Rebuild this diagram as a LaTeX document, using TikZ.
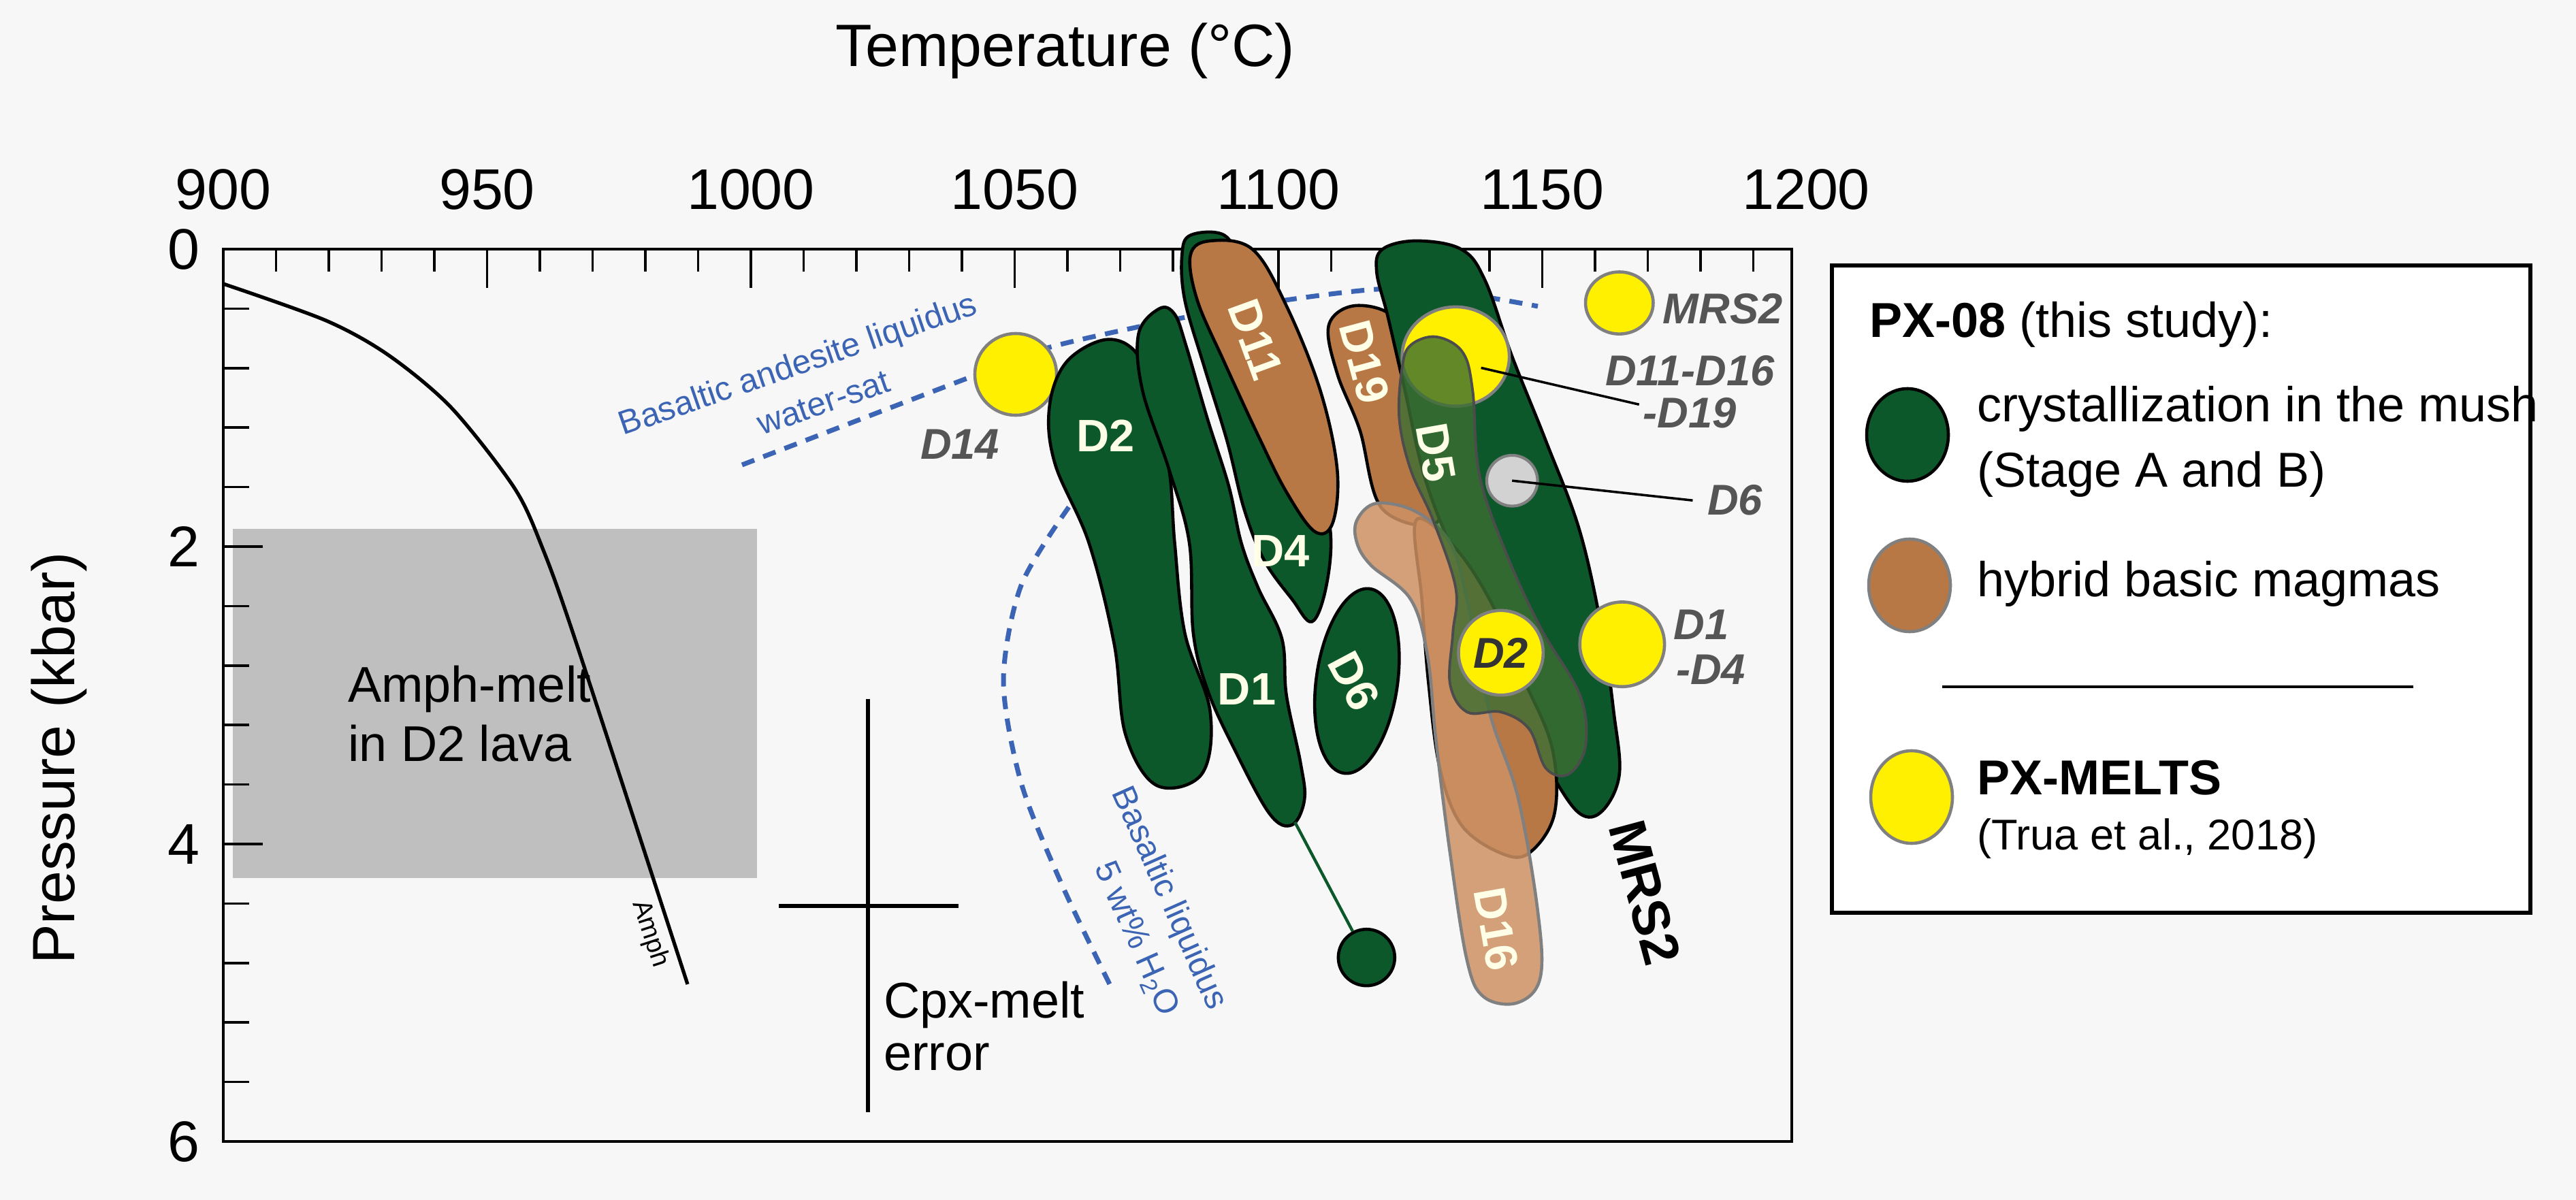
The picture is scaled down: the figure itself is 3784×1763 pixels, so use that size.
\documentclass[tikz,border=0pt]{standalone}
\usepackage{fontspec}
\setmainfont{Liberation Sans}
\newcommand\fsz[1]{\fontsize{#1}{#1}\selectfont}
\definecolor{dgreen}{RGB}{12,88,42}
\definecolor{mgreen}{RGB}{60,110,50}
\definecolor{brownA}{RGB}{184,120,70}
\definecolor{brownB}{RGB}{205,145,100}
\definecolor{yel}{RGB}{255,240,0}
\definecolor{bl}{RGB}{60,100,180}
\definecolor{lab}{RGB}{85,85,85}
\begin{document}
\begin{tikzpicture}[x=0.02cm,y=-0.02cm,
  gblob/.style={fill=dgreen,draw=black,line width=2.6pt},
  bblob/.style={fill=brownA,draw=black,line width=2.6pt},
  ycirc/.style={fill=yel,draw=gray,line width=2.6pt},
  blabel/.style={text=white!90!yellow,font=\fsz{38}\bfseries},
  ilabel/.style={text=lab,font=\fsz{36}\bfseries\itshape},
  bdash/.style={bl,dash pattern=on 11pt off 8pt,line width=4pt},
  tick/.style={line width=2pt}]
\useasboundingbox (0,0) rectangle (3784,1763);
\fill[white!97!black] (0,0) rectangle (3784,1763);
% gray box
\fill[gray!50] (342,777) rectangle (1112,1290);
\node[anchor=west,font=\fsz{42}] (am1) at (505,1012) {Amph-melt};
\node[anchor=west,font=\fsz{42}] (am2) at (505,1092) {in D2 lava};
% frame
\draw[line width=2.5pt] (328,366) rectangle (2632,1677);
\foreach \t in {910,920,...,1190}{\draw[tick] ({328+(\t-900)*7.75},366) -- ++(0,33);}
\foreach \t in {950,1000,...,1150}{\draw[tick] ({328+(\t-900)*7.75},366) -- ++(0,57);}
\foreach \t in {900,950,...,1200}{\node[font=\fsz{48}] (t\t) at ({328+(\t-900)*7.75},278) {\t};}
\foreach \p in {0.4,0.8,...,5.7}{\draw[tick] (328,{366+\p*218.5}) -- ++(38,0);}
\foreach \p in {2,4}{\draw[tick] (328,{366+\p*218.5}) -- ++(58,0);}
\foreach \p in {0,2,4,6}{\node[font=\fsz{48}] (p\p) at (270,{366+\p*218.5}) {\p};}
\node[font=\fsz{50},rotate=90] (ylab) at (87,1114) {Pressure (kbar)};
\node[font=\fsz{50}] (xlab) at (1565,75) {Temperature (°C)};
% Amph curve
\draw[line width=3pt] plot[smooth] coordinates {(328,417) (479,471) (571,522) (663,599) (755,716) (796,803) (847,946) (1010,1446)};
\node[font=\fsz{22},rotate=-72] (amph) at (955,1372) {Amph};
% error cross
\draw[line width=3pt] (1275,1027) -- (1275,1634);
\draw[line width=3pt] (1144,1331) -- (1408,1331);
\node[anchor=west,font=\fsz{42}] (cpx1) at (1292,1476) {Cpx-melt};
\node[anchor=west,font=\fsz{42}] (cpx2) at (1292,1553) {error};
% blue dashed curves
\draw[bdash] plot[smooth] coordinates {(1090,683) (1428,553) (1550,508) (1800,455) (2022,425) (2150,432) (2259,450)};
\draw[bdash] plot[smooth] coordinates {(1570,745) (1500,860) (1474,1000) (1500,1150) (1560,1300) (1633,1452)};
\node[bl,font=\fsz{28},rotate=19] (ba1) at (1173,538) {Basaltic andesite liquidus};
\node[bl,font=\fsz{28},rotate=19] (ba2) at (1210,592) {water-sat};
\node[bl,font=\fsz{28},rotate=-66] (bq1) at (1716,1320) {Basaltic liquidus};
\node[bl,font=\fsz{28},rotate=-66] (bq2) at (1668,1380) {5 wt\% H\textsubscript{2}O};
% D14
\draw[ycirc] (1492,550) circle (60);
\node[ilabel] (d14) at (1410,653) {D14};
\begin{scope}[shift={(1500,300)},scale=0.829]
 \draw[gblob] plot[smooth cycle,tension=0.6] coordinates {(150,240) (80,280) (50,360) (60,460) (120,600) (165,780) (185,940) (240,1030) (320,1010) (335,900) (290,760) (272,600) (262,470) (232,350) (205,265)};
 \draw[gblob] plot[smooth cycle,tension=0.6] coordinates {(300,55) (360,55) (390,110) (425,210) (465,340) (520,470) (548,580) (540,680) (515,740) (480,700) (430,630) (395,540) (365,420) (325,290) (290,170) (285,90)};
 \draw[gblob] plot[smooth cycle,tension=0.6] coordinates {(245,185) (208,230) (215,330) (262,470) (298,600) (305,760) (330,860) (375,960) (440,1080) (480,1100) (502,1055) (495,990) (470,870) (462,770) (420,680) (390,600) (368,500) (330,380) (292,250) (272,195)};
 \draw[gblob,rotate around={-8:(595,845)}] (595,845) ellipse (72 and 165);
 \node[blabel,rotate=-62] (d6b) at (590,845) {D6};
 \node[blabel] (d2b) at (150,410) {D2};
 \node[blabel] (d4b) at (460,615) {D4};
 \node[blabel] (d1b) at (400,860) {D1};
 \node[circle,fill=dgreen,draw=black,line width=2.6pt,minimum size=100*0.829*0.02cm,inner sep=0] (gc) at (612,1335) {};
 \coordinate (tailtop) at (485,1095);
 \draw[dgreen,line width=2.5pt] (tailtop) -- (gc);
 \draw[bblob] plot[smooth cycle,tension=0.6] coordinates {(300,90) (335,65) (410,80) (470,180) (530,330) (560,470) (552,565) (520,580) (470,510) (420,410) (360,280) (312,170)};
 \node[blabel,rotate=-70] (d11) at (415,240) {D11};
 \draw[bblob] plot[smooth cycle,tension=0.6] coordinates {(545,215) (590,180) (660,200) (690,280) (705,420) (740,560) (640,540) (600,400) (560,300)};
 \node[blabel,rotate=-75] (d19) at (608,280) {D19};
 \draw[gblob] plot[smooth cycle,tension=0.6] coordinates {(640,80) (700,65) (780,80) (822,135) (870,270) (930,420) (990,580) (1030,760) (1050,900) (1060,1010) (1030,1075) (990,1080) (940,1010) (870,880) (800,700) (720,500) (680,330) (650,200) (630,120)};
 \node[font=\fsz{44}\bfseries,rotate=-75] (mrs2) at (1105,1220) {MRS2};
 \draw[bblob] plot[smooth cycle,tension=0.6] coordinates {(700,560) (770,610) (835,710) (885,830) (940,960) (945,1080) (900,1150) (850,1150) (780,1100) (742,1000) (722,850) (710,700)};
 \draw[fill=brownB,fill opacity=0.85,draw=gray,line width=2.6pt] plot[smooth cycle,tension=0.6] coordinates {(595,560) (630,530) (700,545) (760,600) (790,700) (830,900) (880,1050) (915,1250) (920,1370) (880,1415) (820,1405) (790,1340) (760,1150) (735,950) (720,800) (690,700) (620,640) (595,600)};
 \node[blabel,rotate=-80] (d16) at (842,1285) {D16};
 \draw[ycirc] (770,270) ellipse (95 and 88);
 \draw[ycirc] (1060,175) ellipse (60 and 55);
 \draw[ycirc] (1065,780) ellipse (75 and 75);
 \draw[fill=mgreen,fill opacity=0.8,draw=black!70,line width=2.2pt] plot[smooth cycle,tension=0.6] coordinates {(690,250) (735,235) (782,262) (800,330) (812,480) (860,620) (920,750) (990,870) (1000,960) (970,1010) (930,1000) (900,930) (850,900) (790,900) (760,850) (765,760) (770,680) (730,560) (690,470) (670,380) (675,290)};
 \node[blabel,rotate=-80] (d5) at (735,440) {D5};
 \draw[ycirc] (850,795) circle (75);
 \node[text=black!80,font=\fsz{36}\bfseries\itshape] (d2y) at (850,795) {D2};
 \node[circle,fill=gray!35,draw=gray,line width=2.4pt,minimum size=90*0.829*0.02cm,inner sep=0] (gray6) at (870,490) {};
 \coordinate (ld1) at (815,290);
 \coordinate (ld2) at (1095,355);
 \draw[line width=2pt] (ld1) -- (ld2);
 \coordinate (ld3) at (1190,525);
 \draw[line width=2pt] (gray6.center) -- (ld3);
 \node[ilabel,anchor=west] (lm) at (1130,185) {MRS2};
 \node[ilabel] (l1) at (1185,295) {D11-D16};
 \node[ilabel] (l2) at (1185,370) {-D19};
 \node[ilabel] (l3) at (1265,525) {D6};
 \node[ilabel] (l4) at (1205,745) {D1};
 \node[ilabel] (l5) at (1222,825) {-D4};
\end{scope}
% legend
\draw[line width=3pt,fill=white] (2691,390) rectangle (3717,1341);
\node[anchor=west,font=\fsz{41}] (lt) at (2740,477) {\textbf{PX-08} (this study):};
\draw[fill=dgreen,draw=black,line width=2.6pt] (2802,639) ellipse (60 and 68);
\node[anchor=west,font=\fsz{41}] (lg1) at (2898,601) {crystallization in the mush};
\node[anchor=west,font=\fsz{41}] (lg2) at (2898,697) {(Stage A and B)};
\draw[fill=brownA,draw=gray,line width=2.6pt] (2805,860) ellipse (60 and 68);
\node[anchor=west,font=\fsz{41}] (lb) at (2898,858) {hybrid basic magmas};
\draw[line width=2pt] (2853,1009) -- (3545,1009);
\draw[ycirc] (2808,1171) ellipse (60 and 68);
\node[anchor=west,font=\fsz{41}\bfseries] (ly1) at (2898,1143) {PX-MELTS};
\node[anchor=west,font=\fsz{36}] (ly2) at (2898,1232) {(Trua et al., 2018)};
\end{tikzpicture}
\end{document}
